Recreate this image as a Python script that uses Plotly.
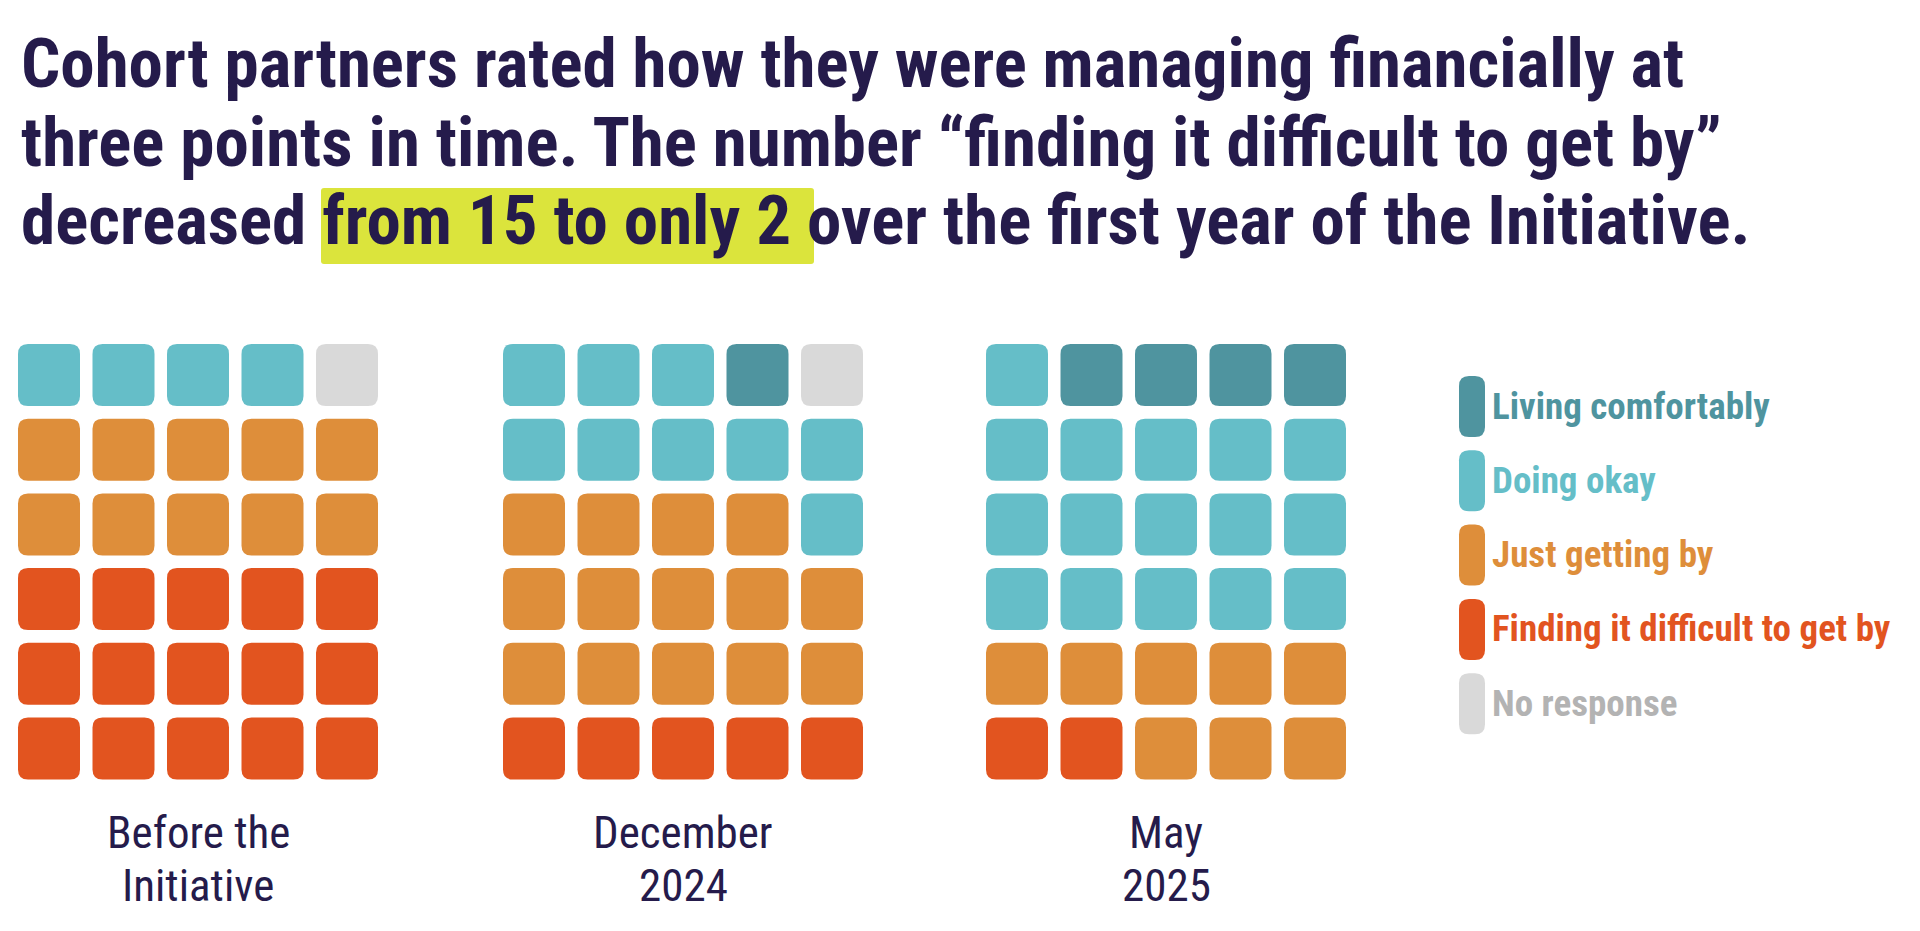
import plotly.graph_objects as go

# ---------------- data ----------------
periods = [["Before the", "Initiative"], ["December", "2024"], ["May", "2025"]]
categories = ["Living comfortably", "Doing okay", "Just getting by",
              "Finding it difficult to get by", "No response"]
living_comfortably = [0, 1, 4]
doing_okay = [4, 9, 16]
just_getting_by = [10, 14, 8]
finding_difficult = [15, 5, 2]
no_response = [1, 1, 0]

title_lines = [
    "Cohort partners rated how they were managing financially at",
    "three points in time. The number \u201cfinding it difficult to get by\u201d",
    "decreased from 15 to only 2 over the first year of the Initiative.",
]

# ---------------- style ----------------
W, H = 1920, 931
colors = {
    "Living comfortably": "#4f949f",
    "Doing okay": "#65bec8",
    "Just getting by": "#de8e3a",
    "Finding it difficult to get by": "#e2541f",
    "No response": "#d9d9d9",
}
text_colors = dict(colors)
text_colors["No response"] = "#b3b3b3"
navy = "#251b4b"
FONT_A = "Roboto Condensed, Liberation Sans Narrow, DejaVu Sans Condensed, sans-serif"

n_cols, n_rows = 5, 6
sq = 62
pitch_x, pitch_y = 74.5, 74.7
grid_left = [10, 495, 978]
grid_top = 336
radius = 10

series = {
    "Living comfortably": living_comfortably,
    "Doing okay": doing_okay,
    "Just getting by": just_getting_by,
    "Finding it difficult to get by": finding_difficult,
    "No response": no_response,
}
fill_order = ["Finding it difficult to get by", "Just getting by", "Doing okay",
              "Living comfortably", "No response"]


def rrect(x0, y0, x1, y1, r):
    return (f"M {x0+r},{y0} L {x1-r},{y0} Q {x1},{y0} {x1},{y0+r} "
            f"L {x1},{y1-r} Q {x1},{y1} {x1-r},{y1} L {x0+r},{y1} "
            f"Q {x0},{y1} {x0},{y1-r} L {x0},{y0+r} Q {x0},{y0} {x0+r},{y0} Z")


fig = go.Figure()
shapes = []
annotations = []

# highlighter band behind "from 15 to only 2"
shapes.append(dict(type="path", xref="x", yref="y", layer="below",
                   path=rrect(313, 180, 806, 256, 3),
                   fillcolor="#dbe43c", line=dict(width=0)))

for p, label in enumerate(periods):
    idx = 0
    hx, hy, hc = [], [], []
    for cat in fill_order:
        for _ in range(series[cat][p]):
            row = n_rows - 1 - idx // n_cols
            col = idx % n_cols
            x0 = grid_left[p] + col * pitch_x
            y0 = grid_top + row * pitch_y
            shapes.append(dict(type="path", xref="x", yref="y", layer="above",
                               path=rrect(x0, y0, x0 + sq, y0 + sq, radius),
                               fillcolor=colors[cat], line=dict(width=0)))
            hx.append(x0 + sq / 2)
            hy.append(y0 + sq / 2)
            hc.append(cat)
            idx += 1
    fig.add_trace(go.Scatter(x=hx, y=hy, mode="markers",
                             marker=dict(size=1, opacity=0),
                             text=hc, hovertemplate="%{text}<extra></extra>",
                             showlegend=False))
    cx = grid_left[p] + ((n_cols - 1) * pitch_x + sq) / 2
    for j, part in enumerate(label):
        annotations.append(dict(x=cx, y=824 + j * 53, xref="x", yref="y", text=part,
                                showarrow=False, xanchor="center", yanchor="middle",
                                font=dict(family=FONT_A, size=45, color=navy)))

leg_x, leg_top, leg_pitch = 1451, 368, 74.3
for i, cat in enumerate(categories):
    y0 = leg_top + i * leg_pitch
    shapes.append(dict(type="path", xref="x", yref="y",
                       path=rrect(leg_x, y0, leg_x + 26, y0 + 61, 10),
                       fillcolor=colors[cat], line=dict(width=0)))
    annotations.append(dict(x=1482, y=y0 + 30, xref="x", yref="y", text=f"<b>{cat}</b>",
                            showarrow=False, xanchor="left", yanchor="middle",
                            font=dict(family=FONT_A, size=37, color=text_colors[cat])))

title_y = [55, 134, 212]
for line, ty in zip(title_lines, title_y):
    annotations.append(dict(x=11, y=ty, xref="x", yref="y", text=f"<b>{line}</b>",
                            showarrow=False, xanchor="left", yanchor="middle",
                            font=dict(family=FONT_A, size=69, color=navy)))

fig.update_layout(
    width=W, height=H,
    margin=dict(l=0, r=0, t=0, b=0),
    paper_bgcolor="white", plot_bgcolor="white",
    xaxis=dict(range=[0, W], visible=False, fixedrange=True),
    yaxis=dict(range=[H, 0], visible=False, fixedrange=True),
    shapes=shapes, annotations=annotations,
    showlegend=False,
)
fig.write_html("out.html")
